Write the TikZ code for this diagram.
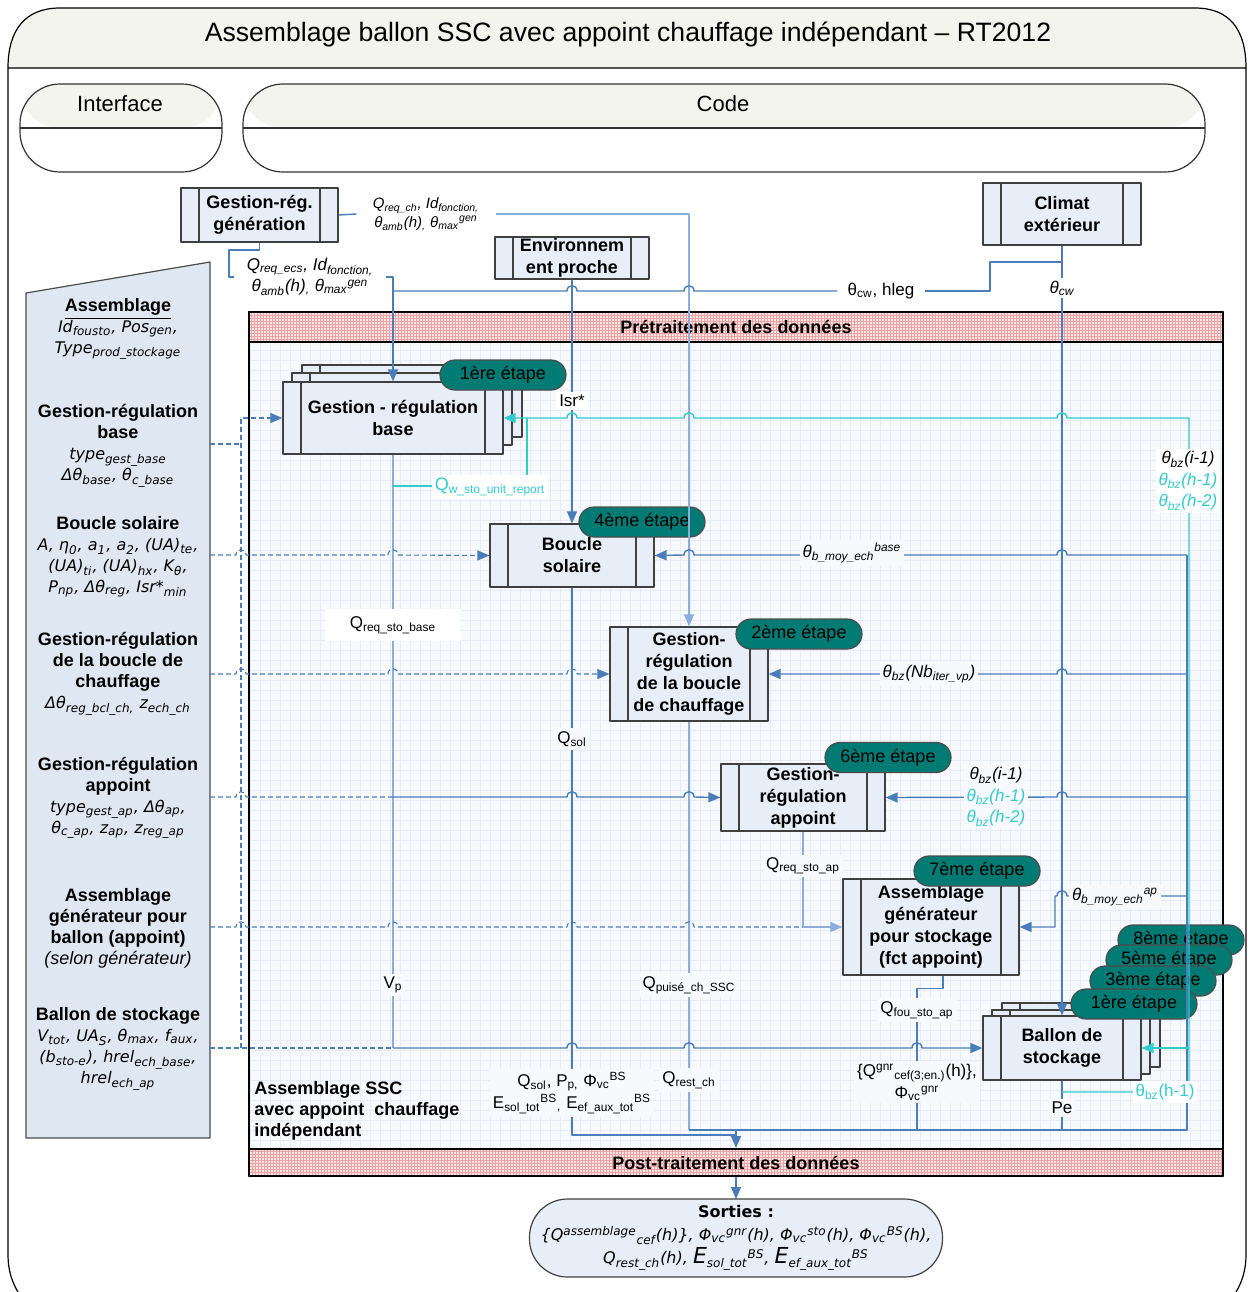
\documentclass[tikz,border=0pt]{standalone}
\usepackage{fontspec}
\setmainfont{Liberation Sans}
\newfontfamily\verd{DejaVu Sans}
\usetikzlibrary{arrows.meta}

\definecolor{boxfill}{HTML}{E8EEF7}
\definecolor{panelfill}{HTML}{DFE7F2}
\definecolor{tagfill}{HTML}{007B74}
\definecolor{lineblue}{HTML}{4A7EBB}
\definecolor{paleblue}{HTML}{8DAEDC}
\definecolor{cyanline}{HTML}{33CCCC}
\definecolor{gridbg}{HTML}{F7F9FD}
\definecolor{gridline}{HTML}{E7EDF6}
\definecolor{bandfill}{HTML}{FBE3E3}
\definecolor{bandgrid}{HTML}{E8A4A4}
\definecolor{hdrfill}{HTML}{F4F4EE}

\newcommand\sbs[1]{\textsubscript{#1}}
\newcommand\sps[1]{\textsuperscript{#1}}
\newcommand\prm[1]{{\verd\itshape\fontsize{8}{10.5}\selectfont #1}}
% line hops (moving right / moving left)
\newcommand\hopr[2]{-- (#1-5,#2) .. controls (#1-5,#2-7) and (#1+5,#2-7) .. (#1+5,#2)}
\newcommand\hopl[2]{-- (#1+5,#2) .. controls (#1+5,#2-7) and (#1-5,#2-7) .. (#1-5,#2)}

\tikzset{
  proc/.style 2 args={draw=black!75, fill=boxfill, line width=0.6pt,
    minimum width=#1, minimum height=#2, inner sep=0pt, align=center,
    font=\fontsize{9}{11}\selectfont\bfseries,
    path picture={\draw[black!75, line width=0.6pt]
      ([xshift=9pt]path picture bounding box.north west) -- ([xshift=9pt]path picture bounding box.south west)
      ([xshift=-9pt]path picture bounding box.north east) -- ([xshift=-9pt]path picture bounding box.south east);}},
  tag/.style={draw=black!70, fill=tagfill, line width=0.6pt, rounded corners=7.5pt,
    minimum width=63pt, minimum height=15pt, inner sep=0pt, font=\fontsize{9}{10}\selectfont},
  lane/.style={draw=black!80, line width=0.6pt, rounded corners=20pt,
    minimum width=#1, minimum height=44pt, inner sep=0pt,
    path picture={\fill[hdrfill] (path picture bounding box.north west) rectangle (path picture bounding box.east);
      \draw[black!80, line width=0.6pt] (path picture bounding box.west) -- (path picture bounding box.east);}},
  band/.style={draw=black, line width=1pt, fill=bandfill, minimum width=487pt, inner sep=0pt,
    font=\fontsize{9}{10}\selectfont\bfseries,
    path picture={\draw[bandgrid, line width=0.2pt, step=1.5pt]
      (path picture bounding box.south west) grid (path picture bounding box.north east);}},
  ln/.style={draw=lineblue, line width=0.7pt},
  pl/.style={draw=paleblue, line width=0.6pt},
  cy/.style={draw=cyanline, line width=0.7pt},
  dsh/.style={draw=lineblue, line width=0.55pt, dash pattern=on 2.5pt off 1.5pt},
  arr/.style={-{Triangle[length=6pt, width=5pt]}},
  lbl/.style={fill=gridbg, inner sep=1.5pt, font=\fontsize{8.5}{10.5}\selectfont},
  wlbl/.style={lbl, fill=white},
  ptxt/.style={align=center, inner sep=0pt, font=\fontsize{9}{10.5}\selectfont}
}

\begin{document}
\begin{tikzpicture}[x=0.5pt, y=-0.5pt, line join=round]
  \useasboundingbox (0,0) rectangle (1248,1292);

  % Outer frame and header
  \draw[fill=hdrfill, line width=0.6pt] (8,68) .. controls (8,30) and (25,8) .. (60,8) -- (1195,8)
    .. controls (1230,8) and (1246,30) .. (1246,68) -- cycle;
  \draw[line width=0.6pt] (8,68) -- (8,1255) .. controls (8,1270) and (12,1282) .. (18,1292);
  \draw[line width=0.6pt] (1246,68) -- (1246,1255) .. controls (1246,1270) and (1242,1282) .. (1236,1292);
  \node[font=\fontsize{13.3}{15}\selectfont] (title) at (628,34) {Assemblage ballon SSC avec appoint chauffage indépendant – RT2012};

  % Lanes
  \node[lane=101pt] (iface) at (121,128) {};
  \node[lane=481pt] (code) at (724,128) {};
  \node[font=\fontsize{11}{13}\selectfont] (ifacett) at (120,104) {Interface};
  \node[font=\fontsize{11}{13}\selectfont] (codett) at (723,104) {Code};

  % Interface panel
  \draw[fill=panelfill, draw=black!70, line width=0.6pt] (26,293) -- (210,262) -- (210,1138) -- (26,1138) -- cycle;
  \node[ptxt] (passm) at (118,329) {\textbf{\underline{Assemblage}}\\ \prm{Id\sbs{fousto}, Pos\sbs{gen},}\\ \prm{Type\sbs{prod\_stockage}}};
  \node[ptxt] (pgbase) at (118,446) {\textbf{Gestion-régulation}\\ \textbf{base}\\ \prm{type\sbs{gest\_base}}\\ \prm{Δθ\sbs{base}, θ\sbs{c\_base}}};
  \node[ptxt] (pbsol) at (118,557) {\textbf{Boucle solaire}\\ \prm{A, η\sbs{0}, a\sbs{1}, a\sbs{2}, (UA)\sbs{te},}\\ \prm{(UA)\sbs{ti}, (UA)\sbs{hx}, K\sbs{θ},}\\ \prm{P\sbs{np}, Δθ\sbs{reg}, Isr*\sbs{min}}};
  \node[ptxt] (pgch) at (118,674) {\textbf{Gestion-régulation}\\ \textbf{de la boucle de}\\ \textbf{chauffage}\\ \prm{Δθ\sbs{reg\_bcl\_ch,} z\sbs{ech\_ch}}};
  \node[ptxt] (pgap) at (118,798) {\textbf{Gestion-régulation}\\ \textbf{appoint}\\ \prm{type\sbs{gest\_ap}, Δθ\sbs{ap},}\\ \prm{θ\sbs{c\_ap}, z\sbs{ap}, z\sbs{reg\_ap}}};
  \node[ptxt] (pagen) at (118,928) {\textbf{Assemblage}\\ \textbf{générateur pour}\\ \textbf{ballon (appoint)}\\ \textit{(selon générateur)}};
  \node[ptxt] (pballon) at (118,1049) {\textbf{Ballon de stockage}\\ \prm{V\sbs{tot}, UA\sbs{S}, θ\sbs{max}, f\sbs{aux},}\\ \prm{(b\sbs{sto-e}), hrel\sbs{ech\_base},}\\ \prm{hrel\sbs{ech\_ap}}};

  % Code frame with grid
  \fill[gridbg] (249,312) rectangle (1223,1176);
  \draw[gridline, line width=0.25pt, step=5pt] (249,1176) grid (1223,312);
  \draw[line width=0.9pt] (249,312) rectangle (1223,1176);
  \node[band, minimum height=15pt] (pre) at (736,327) {Prétraitement des données};
  \node[band, minimum height=13.5pt] (post) at (736,1162.5) {Post-traitement des données};

  % Boxes
  \node[proc={78.5pt}{27pt}] (gen) at (259.5,215) {Gestion-rég.\\génération};
  \node[proc={77pt}{21pt}] (env) at (572,258) {Environnem\\ent proche};
  \node[proc={79pt}{31pt}] (clim) at (1062,214) {Climat\\extérieur};
  \node[proc={110pt}{36pt}] (gbase3) at (412,401) {};
  \node[proc={110pt}{36pt}] (gbase2) at (402,409) {};
  \node[proc={110pt}{36pt}] (gbase) at (393,418) {Gestion - régulation\\base};
  \node[proc={82pt}{31.5pt}] (bsol) at (572,555.5) {Boucle\\solaire};
  \node[proc={79pt}{47pt}] (gch) at (689,674) {Gestion-\\régulation\\de la boucle\\de chauffage};
  \node[proc={82pt}{33.5pt}] (gap) at (803,797.5) {Gestion-\\régulation\\appoint};
  \node[proc={88pt}{48pt}] (agen) at (931,927) {Assemblage\\générateur\\pour stockage\\(fct appoint)};
  \node[proc={79pt}{32pt}] (ballon3) at (1081,1035) {};
  \node[proc={79pt}{32pt}] (ballon2) at (1071,1042) {};
  \node[proc={79pt}{32pt}] (ballon) at (1062,1048) {Ballon de\\stockage};

  % Step tags
  \node[tag] (t1a) at (503,375) {1ère étape};
  \node[tag] (t4) at (642,522) {4ème étape};
  \node[tag] (t2) at (799,634) {2ème étape};
  \node[tag] (t6) at (888,757.5) {6ème étape};
  \node[tag] (t7) at (977,871) {7ème étape};
  \node[tag] (t8) at (1181,940) {8ème étape};
  \node[tag] (t5) at (1169,960) {5ème étape};
  \node[tag] (t3) at (1153,981) {3ème étape};
  \node[tag] (t1b) at (1134,1004) {1ère étape};

  % Labels used as line ends
  \node[inner xsep=8pt, inner ysep=0pt, align=center, font=\fontsize{7.5}{9.5}\selectfont\itshape] (lqch) at (426,214)
    {Q\sbs{req\_ch}, Id\sbs{fonction,}\\ θ\sbs{amb}(h)\sbs{,} θ\sbs{max}\sps{gen}};
  \node[inner xsep=6.5pt, inner ysep=0pt, align=center, font=\fontsize{8.5}{10.5}\selectfont\itshape] (lqecs) at (310,277)
    {Q\sbs{req\_ecs}, Id\sbs{fonction,}\\ θ\sbs{amb}(h)\sbs{,} θ\sbs{max}\sps{gen}};
  \node[inner sep=5pt, font=\fontsize{8.5}{10}\selectfont] (hleg) at (881,291) {θ\sbs{cw}, hleg};
  \coordinate (cj) at (1062,262);
  \coordinate (bz) at (1062,1092);

  % Generation and climate links
  \draw[ln] (gen.east) -- (lqch.west);
  \draw[pl, arr] (lqch.east) -| (gch.north);
  \draw[ln] (gen.south) |- (229,250) |- (lqecs.west);
  \draw[ln, arr] (lqecs.east) -| (gbase.north);
  \draw[ln, arr] (clim.south) -- (ballon.north);
  \draw[ln] (clim.south) -- (cj) -| (990,291) -- (hleg.east);
  \draw[ln] (hleg.west) \hopl{689}{291} \hopl{572}{291} -- (393,291);
  \draw[ln, arr] (env.south) -- (bsol.north);

  % Vertical outputs
  \draw[pl] (gbase.south) -- (393,1048);
  \draw[ln] (bsol.south) -- (572,1135) -- (736,1135);
  \draw[pl] (gch.south) -- (689,1130);
  \draw[pl, arr] (gap.south) |- (agen.west);
  \draw[ln] ([xshift=6pt]agen.south) -- ++(0,13) -| (917,1130);
  \draw[ln] (ballon.south) -- (1062,1130);
  \draw[ln] (1187,555) -- (1187,1130) -- (689,1130);
  \draw[ln, arr] (736,1130) -- (post.north);
  \draw[ln, arr] (post.south) -- (736,1199);

  % Feedback from storage
  \draw[ln, arr] (1187,555) \hopl{1062}{555} \hopl{689}{555} -- (bsol.east);
  \draw[ln, arr] (1187,674) \hopl{1062}{674} -- (gch.east);
  \draw[ln, arr] (1187,797) \hopl{1062}{797} -- (gap.east);
  \draw[ln, arr] (1187,896) \hopl{1062}{896} -- (1055,896) |- (agen.east);
  \draw[cy, arr] (bz) -- (1189,1092) -- (1189,418) \hopl{1062}{418} \hopl{689}{418} \hopl{572}{418} -- (gbase.east);
  \draw[cy] (527,418) -- (527,486) -- (393,486);
  \draw[cy, arr] (1189,1048) -- (ballon.east);

  % Interface links
  \draw[dsh] (210,444) -- (241,444);
  \draw[dsh, arr] (241,1048) -- (241,418) -- (gbase.west);
  \draw[dsh, arr] (210,555) \hopr{241}{555} \hopr{393}{555} -- (bsol.west);
  \draw[dsh, arr] (210,674) \hopr{241}{674} \hopr{393}{674} \hopr{572}{674} -- (gch.west);
  \draw[dsh] (210,797) \hopr{241}{797} -- (393,797);
  \draw[ln, arr] (393,797) \hopr{572}{797} \hopr{689}{797} -- (gap.west);
  \draw[dsh] (210,927) \hopr{241}{927} \hopr{393}{927} \hopr{572}{927} \hopr{689}{927} -- (803,927);
  \draw[dsh] (210,1048) -- (393,1048);
  \draw[ln, arr] (393,1048) \hopr{572}{1048} \hopr{689}{1048} \hopr{917}{1048} -- (ballon.west);

  % Labels
  \node[wlbl, font=\fontsize{8.5}{10}\selectfont\itshape] (tcw) at (1062,288) {θ\sbs{cw}};
  \node[wlbl] (lisr) at (572,401) {Isr*};
  \node[wlbl, text=cyanline, font=\fontsize{9}{11}\selectfont] (lqw) at (490,487) {Q\sbs{w\_sto\_unit\_report}};
  \node[wlbl, minimum width=68pt, minimum height=16pt] (lqsb) at (393,625) {Q\sbs{req\_sto\_base}};
  \node[lbl, font=\fontsize{8.5}{10}\selectfont\itshape] (lbmb) at (852,553) {θ\sbs{b\_moy\_ech}\sps{base}};
  \node[lbl, font=\fontsize{8.5}{10}\selectfont\itshape] (lnb) at (929,674) {θ\sbs{bz}(Nb\sbs{iter\_vp})};
  \node[lbl] (lqsol) at (572,739) {Q\sbs{sol}};
  \node[lbl, align=center, font=\fontsize{8.5}{10.75}\selectfont\itshape] (lbzg) at (996,797)
    {θ\sbs{bz}(i-1)\\ \textcolor{cyanline}{θ\sbs{bz}(h-1)}\\ \textcolor{cyanline}{θ\sbs{bz}(h-2)}};
  \node[wlbl, align=center, font=\fontsize{8.5}{10.75}\selectfont\itshape] (lbzr) at (1188,481)
    {θ\sbs{bz}(i-1)\\ \textcolor{cyanline}{θ\sbs{bz}(h-1)}\\ \textcolor{cyanline}{θ\sbs{bz}(h-2)}};
  \node[lbl] (lqsap) at (803,866) {Q\sbs{req\_sto\_ap}};
  \node[lbl, font=\fontsize{8.5}{10}\selectfont\itshape] (lbmap) at (1115,897) {θ\sbs{b\_moy\_ech}\sps{ap}};
  \node[lbl] (lvp) at (393,985) {V\sbs{p}};
  \node[lbl] (lqps) at (689,985) {Q\sbs{puisé\_ch\_SSC}};
  \node[lbl] (lqfou) at (917,1010) {Q\sbs{fou\_sto\_ap}};
  \node[lbl, align=center, font=\fontsize{8.5}{11}\selectfont] (lqgnr) at (917,1082)
    {\{Q\sps{gnr}\sbs{cef(3;en.)}(h)\},\\ Φ\sbs{vc}\sps{gnr}};
  \node[lbl, align=center, font=\fontsize{8.5}{11}\selectfont] (lqsolb) at (572,1093)
    {Q\sbs{sol}, P\sbs{p,} Φ\sbs{vc}\sps{BS}\\ E\sbs{sol\_tot}\sps{BS}\sbs{,} E\sbs{ef\_aux\_tot}\sps{BS}};
  \node[lbl] (lqrest) at (689,1080) {Q\sbs{rest\_ch}};
  \node[lbl] (lpe) at (1062,1108) {Pe};
  \node[wlbl, text=cyanline] (lbzh) at (1165,1092) {θ\sbs{bz}(h-1)};
  \node[anchor=west, align=left, inner sep=0pt, font=\fontsize{9}{10.5}\selectfont\bfseries] (lssc) at (254,1111)
    {Assemblage SSC\\ avec appoint \ chauffage\\ indépendant};

  % Outputs
  \node[draw=black!75, fill=boxfill, line width=0.6pt, rounded corners=19pt, minimum width=206.5pt, minimum height=39pt,
    align=center, inner sep=0pt, font=\verd\itshape\fontsize{8}{11.5}\selectfont] (sorties) at (736,1238)
    {\textbf{\upshape Sorties :}\\ \{Q\sps{assemblage}\sbs{cef}(h)\}, Φ\sbs{vc}\sps{gnr}(h), Φ\sbs{vc}\sps{sto}(h), Φ\sbs{vc}\sps{BS}(h),\\
     Q\sbs{rest\_ch}(h), {\fontsize{11}{11.5}\selectfont E}\sbs{sol\_tot}\sps{BS}, {\fontsize{11}{11.5}\selectfont E}\sbs{ef\_aux\_tot}\sps{BS}};
\end{tikzpicture}
\end{document}
